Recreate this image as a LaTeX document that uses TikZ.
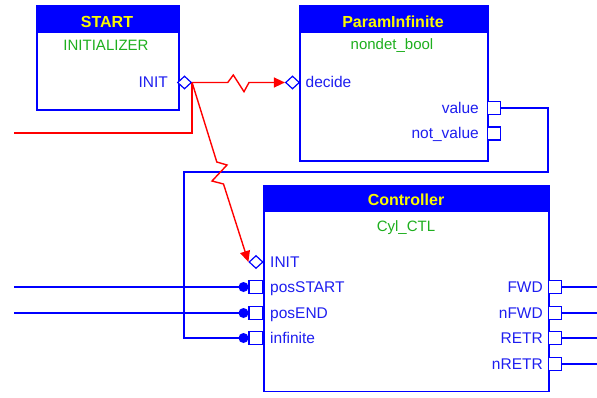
\documentclass[tikz,border=0pt]{standalone}
\usepackage{fontspec}
\setmainfont{Liberation Sans}
\usetikzlibrary{shapes.geometric,arrows.meta}
\definecolor{fbblue}{RGB}{0,0,255}
\definecolor{lblblue}{RGB}{30,30,240}
\definecolor{tgreen}{RGB}{30,175,30}
\definecolor{tyellow}{RGB}{250,250,0}
\definecolor{wred}{RGB}{255,0,0}
\begin{document}
\begin{tikzpicture}[x=1pt,y=-1pt,
  fb/.style={draw=fbblue,line width=1.5pt,fill=white,rectangle,inner sep=0,anchor=north west},
  hdr/.style={fill=fbblue,draw=fbblue,line width=1.5pt,rectangle,inner sep=0,anchor=north west},
  ttl/.style={text=tyellow,font=\fontsize{16}{19}\selectfont\bfseries,anchor=base,inner sep=0},
  typ/.style={text=tgreen,font=\fontsize{15}{18}\selectfont,anchor=base,inner sep=0},
  lblw/.style={text=lblblue,font=\fontsize{15.5}{18}\selectfont,anchor=base west,inner sep=0},
  lble/.style={text=lblblue,font=\fontsize{15.5}{18}\selectfont,anchor=base east,inner sep=0},
  evport/.style={diamond,draw=fbblue,line width=1.2pt,fill=white,inner sep=0,minimum width=14pt,minimum height=13pt},
  dport/.style={rectangle,draw=fbblue,line width=1.2pt,fill=white,inner sep=0,minimum width=13.5pt,minimum height=13pt},
  dotport/.style={circle,fill=fbblue,inner sep=0,minimum size=10pt},
  dline/.style={draw=fbblue,line width=1.5pt},
  eline/.style={draw=wred,line width=1.4pt},
  earrow/.style={eline,-{Triangle[length=11pt,width=10pt]}}
]
\fill[white] (0,0) rectangle (597,397);
\useasboundingbox (0,0) rectangle (597,397);

% START block
\node[fb,minimum width=142pt,minimum height=104pt] (startbox) at (36,5) {};
\node[hdr,minimum width=142pt,minimum height=26pt] (starthdr) at (36,5) {};
\node[ttl] (starttitle) at (107,27.3) {START};
\node[typ] (starttype) at (106,50) {INITIALIZER};
\node[lble] (startinitlbl) at (168,87) {INIT};
\node[evport] (sinit) at (184.5,82.5) {};

% ParamInfinite block
\node[fb,minimum width=188pt,minimum height=155pt] (parambox) at (299,5) {};
\node[hdr,minimum width=188pt,minimum height=26pt] (paramhdr) at (299,5) {};
\node[ttl] (paramtitle) at (393,27.7) {ParamInfinite};
\node[typ] (paramtype) at (392,49) {nondet\_bool};
\node[lblw] (decidelbl) at (305.5,87.5) {decide};
\node[lble] (valuelbl) at (479,113) {value};
\node[lble] (notvaluelbl) at (479,138.5) {not\_value};
\node[evport] (pdecide) at (292.5,82.5) {};
\node[dport] (pvalue) at (494,108) {};
\node[dport] (pnotvalue) at (494,133.5) {};

% Controller block
\node[fb,minimum width=285pt,minimum height=205.5pt] (ctlbox) at (263,185) {};
\node[hdr,minimum width=285pt,minimum height=25pt] (ctlhdr) at (263,185) {};
\node[ttl] (ctltitle) at (406,205.7) {Controller};
\node[typ] (ctltype) at (406,231) {Cyl\_CTL};
\node[lblw] (cinitlbl) at (270,267.5) {INIT};
\node[lblw] (cposstartlbl) at (270,292.5) {posSTART};
\node[lblw] (cposendlbl) at (270,318.3) {posEND};
\node[lblw] (cinflbl) at (270,343.5) {infinite};
\node[lble] (cfwdlbl) at (543,292.5) {FWD};
\node[lble] (cnfwdlbl) at (543,318.3) {nFWD};
\node[lble] (cretrlbl) at (543,343.5) {RETR};
\node[lble] (cnretrlbl) at (543,369.3) {nRETR};
\node[evport] (cinit) at (256,262) {};
\node[dport] (cposstart) at (255.8,287) {};
\node[dport] (cposend) at (255.8,313) {};
\node[dport] (cinf) at (255.8,338) {};
\node[dport] (cfwd) at (555,287) {};
\node[dport] (cnfwd) at (555,313) {};
\node[dport] (cretr) at (555,338) {};
\node[dport] (cnretr) at (555,364) {};

% free ends and bends
\coordinate (inA) at (14,287);
\coordinate (inB) at (14,313);
\coordinate (redL) at (14,133);
\coordinate (outA) at (597,287);
\coordinate (outB) at (597,313);
\coordinate (outC) at (597,338);
\coordinate (outD) at (597,364);
\coordinate (bend1) at (548,172);
\coordinate (bend2) at (184,172);

% data connectors
\draw[dline] (inA) -- (cposstart.west);
\draw[dline] (inB) -- (cposend.west);
\draw[dline] (pvalue.east) -| (bend1) -- (bend2) |- (cinf.west);
\draw[dline] (cfwd.east) -- (outA);
\draw[dline] (cnfwd.east) -- (outB);
\draw[dline] (cretr.east) -- (outC);
\draw[dline] (cnretr.east) -- (outD);
\node[dotport] (dposstart) at (243.5,287) {};
\node[dotport] (dposend) at (243.5,313) {};
\node[dotport] (dinf) at (243.5,338) {};

% event connectors
\draw[eline] (sinit.east) |- (redL);
\draw[earrow] (sinit.east) -- (227.7,82.5) -- (233.3,75) -- (244,91.7) -- (249,82.5) -- (pdecide.west);
\draw[earrow] (sinit.east) -- (216.8,162) -- (227,165) -- (212,181) -- (223.5,184) -- (cinit.west);
\end{tikzpicture}
\end{document}
